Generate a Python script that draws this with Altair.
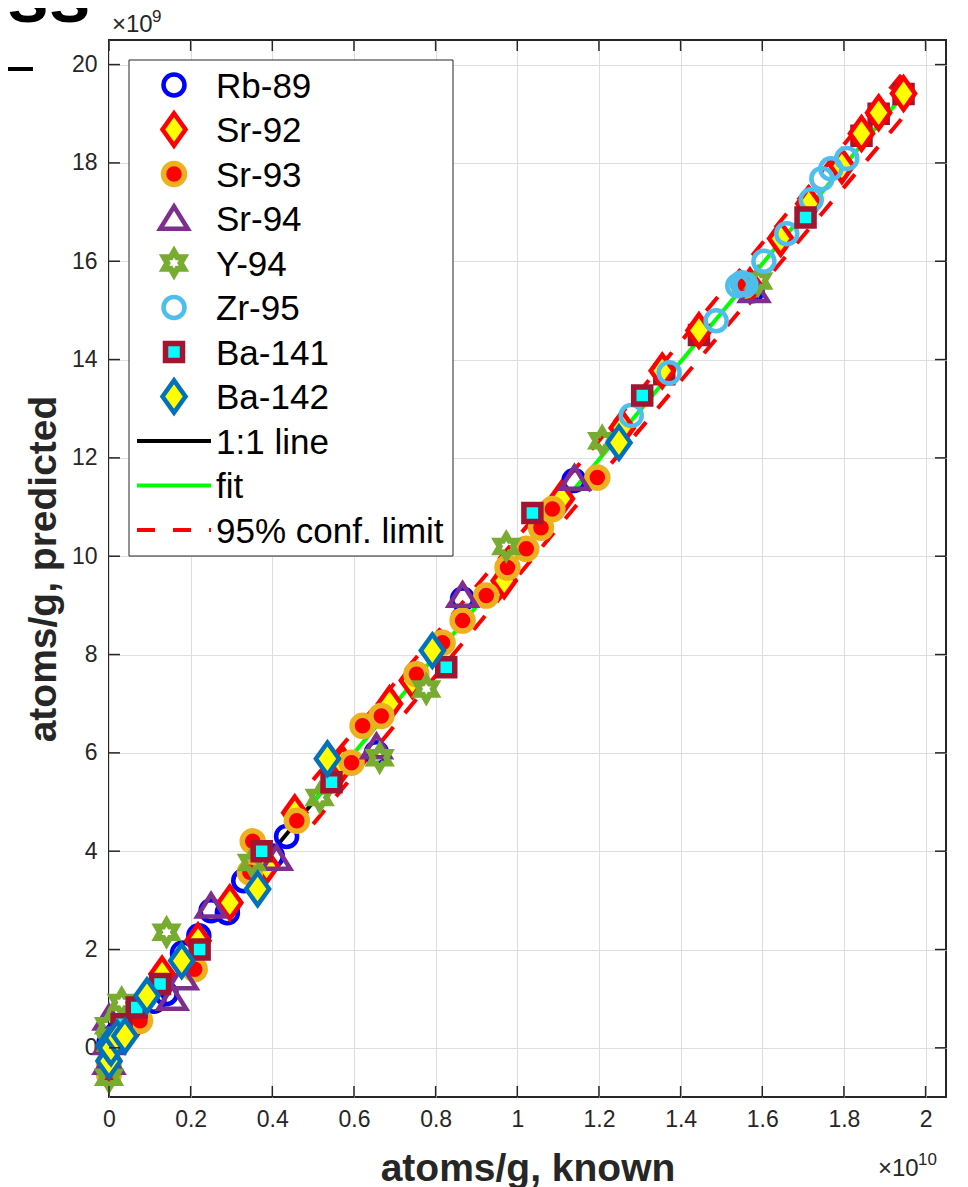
import math
import altair as alt
import pandas as pd

# ---------------- data (x in units of 1e10, y in units of 1e9) ----------------
names = ["Rb-89", "Sr-92", "Sr-93", "Sr-94", "Y-94", "Zr-95", "Ba-141", "Ba-142"]

rb89_x = [0.0, 0.02, 0.05, 0.11, 0.14, 0.18, 0.22, 0.25, 0.29, 0.33, 0.40, 0.435, 0.655, 0.866, 1.139, 1.575]
rb89_y = [0.1, 0.3, 0.6, 0.95, 1.1, 1.93, 2.28, 2.79, 2.75, 3.4, 3.9, 4.3, 6.0, 9.13, 11.54, 15.4]

sr92_x = [0.0, 0.07, 0.13, 0.218, 0.296, 0.386, 0.455, 0.572, 0.687, 0.743, 0.968, 1.108, 1.257,
          1.355, 1.445, 1.57, 1.645, 1.714, 1.795, 1.843, 1.885, 1.946]
sr92_y = [0.0, 0.6, 1.5, 2.18, 2.95, 3.7, 4.78, 5.78, 7.0, 7.47, 9.5, 11.17, 12.61,
          13.77, 14.59, 15.5, 16.46, 17.17, 17.94, 18.6, 19.02, 19.41]

sr93_x = [0.0, 0.0, 0.076, 0.21, 0.345, 0.352, 0.46, 0.594, 0.621, 0.667, 0.753, 0.817, 0.866,
          0.924, 0.976, 1.022, 1.058, 1.086, 1.196, 1.555]
sr93_y = [-0.53, -0.3, 0.55, 1.6, 3.57, 4.2, 4.62, 5.8, 6.55, 6.75, 7.6, 8.24, 8.69,
          9.2, 9.77, 10.15, 10.58, 10.96, 11.6, 15.5]

sr94_x = [0.0, 0.0, 0.0, 0.155, 0.18, 0.25, 0.41, 0.655, 0.866, 1.14, 1.58]
sr94_y = [-0.3, 0.1, 0.6, 1.0, 1.42, 2.88, 3.85, 6.12, 9.2, 11.58, 15.4]

y94_x = [0.0, 0.0, 0.005, 0.031, 0.141, 0.35, 0.516, 0.663, 0.777, 0.973, 1.208, 1.59]
y94_y = [-0.6, 0.45, 0.1, 0.92, 2.35, 3.77, 5.09, 5.9, 7.3, 10.2, 12.35, 15.6]

zr95_x = [1.279, 1.372, 1.487, 1.54, 1.55, 1.56, 1.604, 1.66, 1.72, 1.746, 1.768, 1.807]
zr95_y = [12.86, 13.73, 14.79, 15.5, 15.56, 15.52, 16.0, 16.56, 17.25, 17.68, 17.88, 18.09]

# Ba-141 points that sit behind the Sr-92 diamonds, then the ones drawn on top
ba141_back_x = [1.36, 1.445, 1.843, 1.885, 1.946]
ba141_back_y = [13.7, 14.5, 18.55, 19.0, 19.4]
ba141_x = [0.031, 0.068, 0.125, 0.222, 0.374, 0.545, 0.826, 1.037, 1.306, 1.706]
ba141_y = [0.48, 0.82, 1.3, 2.0, 4.0, 5.4, 7.74, 10.88, 13.27, 16.89]

ba142_x = [0.0, 0.0, 0.005, 0.02, 0.039, 0.093, 0.178, 0.364, 0.535, 0.792, 1.249]
ba142_y = [-0.27, 0.05, 0.0, 0.2, 0.24, 1.06, 1.77, 3.23, 5.88, 8.08, 12.31]

series_x = [rb89_x, sr92_x, sr93_x, sr94_x, y94_x, zr95_x, ba141_x, ba142_x]
series_y = [rb89_y, sr92_y, sr93_y, sr94_y, y94_y, zr95_y, ba141_y, ba142_y]

line_names = ["1:1 line", "fit", "95% conf. limit"]
oneone_x = [0.37, 0.55]
oneone_y = [3.7, 5.5]
fit_x = [0.5, 1.95]
fit_y = [5.0, 19.43]
conf_x = [0.5, 1.2, 1.95]
conf_hi = [5.45, 12.35, 19.88]
conf_lo = [4.55, 11.59, 18.98]

x_ticks = [0, 0.2, 0.4, 0.6, 0.8, 1.0, 1.2, 1.4, 1.6, 1.8, 2.0]
y_ticks = [0, 2, 4, 6, 8, 10, 12, 14, 16, 18, 20]

# ---------------- styling ----------------
W, H = 837, 1057
FONT = "Liberation Sans"
INK = "#262626"

xs = alt.Scale(domain=[0, 2.05], nice=False, zero=False)
ys = alt.Scale(domain=[-1, 20.5], nice=False, zero=False)

common_axis = dict(grid=True, gridColor="#dedede", gridWidth=1, domain=False, ticks=False,
                   tickSize=0, labelFontSize=23, labelColor=INK, labelFont=FONT,
                   titleFontSize=39, titleFontWeight="bold", titleColor=INK, titleFont=FONT,
                   titleAlign="center", titleBaseline="alphabetic", labelFlush=False,
                   labelOverlap=False)
xaxis = alt.Axis(values=x_ticks, format="~g", labelPadding=11, title="atoms/g, known",
                 titleX=W / 2, titleY=83, **common_axis)
yaxis = alt.Axis(values=y_ticks, format="d", labelPadding=12, title="atoms/g, predicted",
                 titleAngle=270, titleX=-54, titleY=H / 2, **common_axis)


def X(f):
    return alt.X(f, type="quantitative", scale=xs, axis=xaxis)


def Y(f):
    return alt.Y(f, type="quantitative", scale=ys, axis=yaxis)


DIAMOND = "M0,-1.4L1,0L0,1.4L-1,0Z"
TRI = "M0,-1L1.15,0.85L-1.15,0.85Z"
pts = []
for k in range(12):
    ang = math.radians(-90 + 30 * k)
    r = 1.0 if k % 2 == 0 else 0.577
    pts.append(f"{r * math.cos(ang):.3f},{r * math.sin(ang):.3f}")
HEX = "M" + "L".join(pts) + "Z"

styles = [
    dict(shape="circle", size=441, filled=False, stroke="#0000FF", strokeWidth=4.5),
    dict(shape=DIAMOND, size=529, filled=True, fill="#FFFF00", stroke="#FF0000", strokeWidth=4.5),
    dict(shape="circle", size=441, filled=True, fill="#FF0000", stroke="#EDB120", strokeWidth=5.5),
    dict(shape=TRI, size=576, filled=False, stroke="#7E2F8E", strokeWidth=4.5),
    dict(shape=HEX, size=529, filled=False, stroke="#77AC30", strokeWidth=6),
    dict(shape="circle", size=441, filled=False, stroke="#4DBEEE", strokeWidth=4.5),
    dict(shape="square", size=289, filled=True, fill="#00FFFF", stroke="#A2142F", strokeWidth=5.5),
    dict(shape=DIAMOND, size=529, filled=True, fill="#FFFF00", stroke="#0072BD", strokeWidth=4.5),
]

one = pd.DataFrame({"a": [0]})
layers = []

# lines (beneath the markers)
layers.append(alt.Chart(pd.DataFrame({"x": oneone_x, "y": oneone_y}))
              .mark_line(color="black", strokeWidth=4).encode(x=X("x"), y=Y("y")))
layers.append(alt.Chart(pd.DataFrame({"x": fit_x, "y": fit_y}))
              .mark_line(color="#00FF00", strokeWidth=4).encode(x=X("x"), y=Y("y")))
for cy in (conf_hi, conf_lo):
    layers.append(alt.Chart(pd.DataFrame({"x": conf_x, "y": cy}))
                  .mark_line(color="#FF0000", strokeWidth=4, strokeDash=[18, 18], strokeCap="butt")
                  .encode(x=X("x"), y=Y("y")))


def points(sx, sy, st):
    return (alt.Chart(pd.DataFrame({"x": sx, "y": sy}))
            .mark_point(opacity=1, strokeJoin="miter", **st)
            .encode(x=X("x"), y=Y("y")))


# markers
layers.append(points(rb89_x, rb89_y, styles[0]))
layers.append(points(ba141_back_x, ba141_back_y, styles[6]))
for sx, sy, st in zip(series_x[1:], series_y[1:], styles[1:]):
    layers.append(points(sx, sy, st))

# inward ticks on all four sides
xt = pd.DataFrame({"v": x_ticks})
yt = pd.DataFrame({"v": y_ticks})
layers.append(alt.Chart(xt).mark_rule(color=INK, strokeWidth=1.5)
              .encode(x=X("v"), y=alt.value(H), y2=alt.value(H - 11)))
layers.append(alt.Chart(xt).mark_rule(color=INK, strokeWidth=1.5)
              .encode(x=X("v"), y=alt.value(0), y2=alt.value(11)))
layers.append(alt.Chart(yt).mark_rule(color=INK, strokeWidth=1.5)
              .encode(y=Y("v"), x=alt.value(0), x2=alt.value(11)))
layers.append(alt.Chart(yt).mark_rule(color=INK, strokeWidth=1.5)
              .encode(y=Y("v"), x=alt.value(W), x2=alt.value(W - 11)))


def txt(t, x, y, size, weight="normal", color=INK):
    return (alt.Chart(one).mark_text(text=t, font=FONT, fontSize=size, fontWeight=weight,
                                     color=color, align="left", baseline="alphabetic")
            .encode(x=alt.value(x), y=alt.value(y)))


# exponent labels
layers.append(txt("\u00d710", 3, -8, 24))
layers.append(txt("9", 43, -18, 17))
layers.append(txt("\u00d710", 769, 1136, 24))
layers.append(txt("10", 809, 1125, 17))

# cropped fragment of a neighbouring title at the top-left corner
layers.append(txt("ss", -102, -18, 75, weight="bold", color="black"))
layers.append(alt.Chart(one).mark_rule(color="black", strokeWidth=4)
              .encode(x=alt.value(-101), x2=alt.value(-76), y=alt.value(29)))

# legend
layers.append(alt.Chart(one).mark_rect(fill="white", stroke=INK, strokeWidth=1)
              .encode(x=alt.value(20), x2=alt.value(344), y=alt.value(20), y2=alt.value(516)))
step = 44.5
for i, (nm, st) in enumerate(zip(names, styles)):
    yc = 45 + step * i
    layers.append(alt.Chart(one).mark_point(opacity=1, strokeJoin="miter", **st)
                  .encode(x=alt.value(65), y=alt.value(yc)))
    layers.append(txt(nm, 107, yc + 12.5, 35, color="black"))
line_styles = [dict(color="black"), dict(color="#00FF00"),
               dict(color="#FF0000", strokeDash=[18, 18], strokeCap="butt")]
for j, (nm, ls) in enumerate(zip(line_names, line_styles)):
    yc = 45 + step * (8 + j)
    layers.append(alt.Chart(one).mark_rule(strokeWidth=4, **ls)
                  .encode(x=alt.value(28), x2=alt.value(102), y=alt.value(yc)))
    layers.append(txt(nm, 107, yc + 12.5, 35, color="black"))

chart = (alt.layer(*layers)
         .properties(width=W, height=H, autosize=alt.AutoSizeParams(type="none"),
                     padding={"left": 101, "top": 32, "right": 14, "bottom": 90})
         .configure(font=FONT)
         .configure_view(stroke=INK, strokeWidth=2))

chart.save("out.html", embed_options={"renderer": "svg", "actions": False})
